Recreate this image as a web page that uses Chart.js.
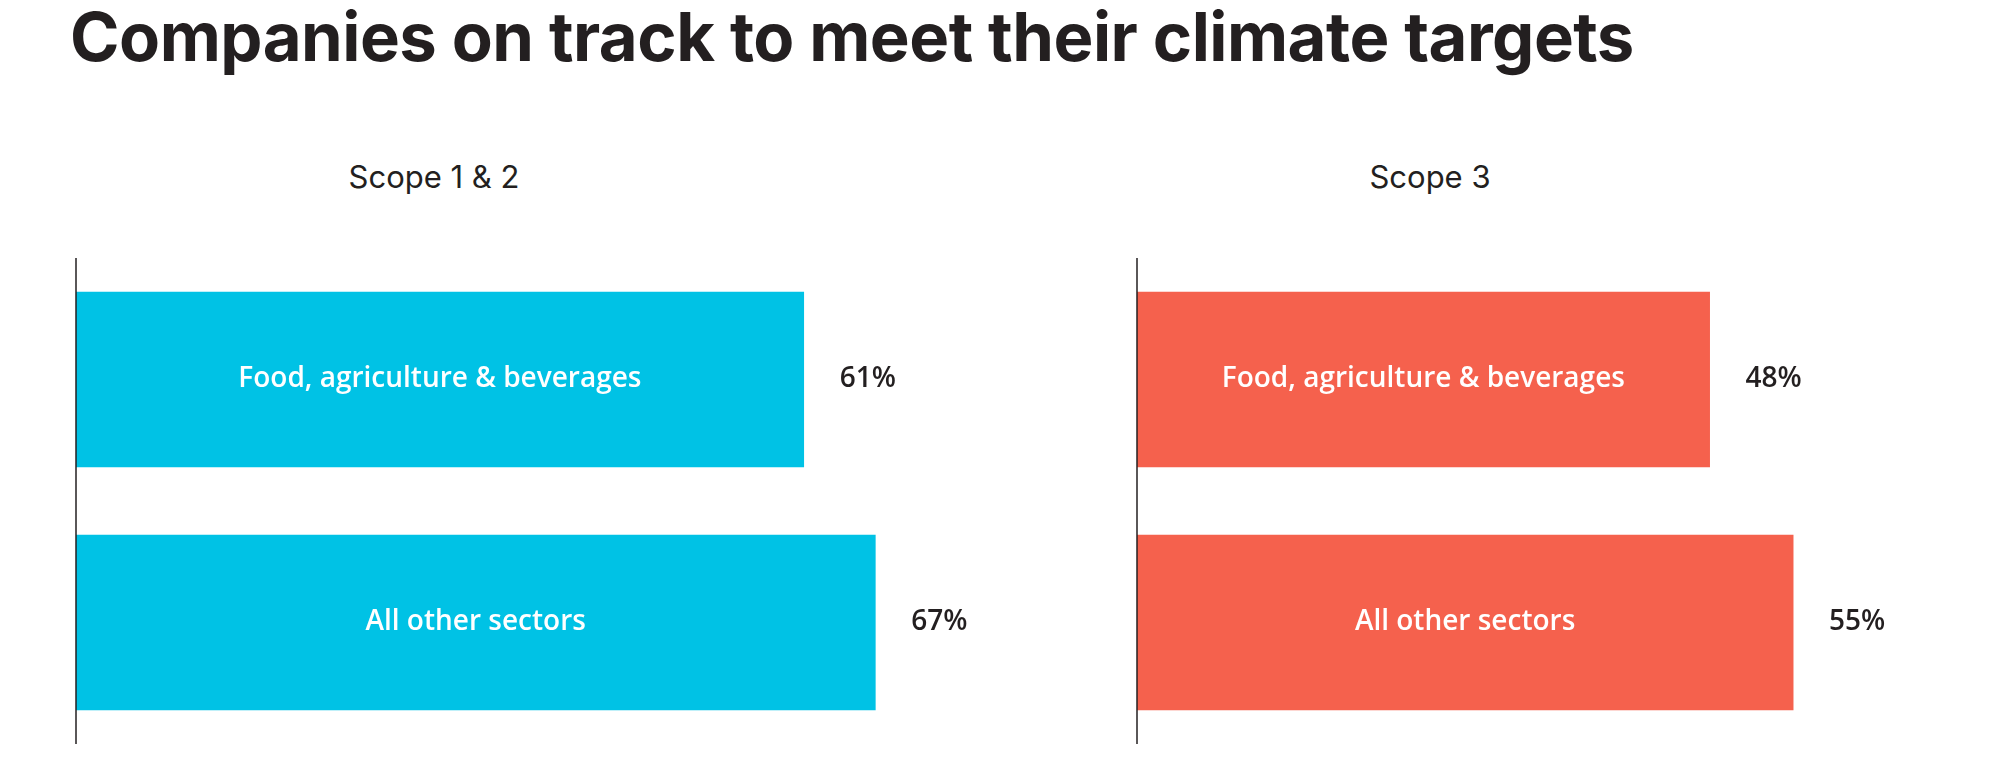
<!DOCTYPE html>
<html><head><meta charset="utf-8">
<script src="https://cdn.jsdelivr.net/npm/chart.js@4"></script>
<style>
body{margin:0;width:2000px;height:758px;background:#fff;position:relative;overflow:hidden;font-family:Inter,sans-serif;color:#231f20}
#title{position:absolute;left:70px;top:-4px;font-size:67px;font-weight:700;letter-spacing:-0.5px;white-space:nowrap}
.sub{position:absolute;top:158px;font-size:31px;font-weight:400;transform:translateX(-50%);white-space:nowrap}
canvas{position:absolute}
</style></head><body>
<div id="title">Companies on track to meet their climate targets</div>
<div class="sub" style="left:434px">Scope 1 &amp; 2</div>
<div class="sub" style="left:1430px">Scope 3</div>
<div id="c1" style="position:absolute;left:0;top:258px;width:1100px;height:486px"><canvas id="a"></canvas></div>
<div id="c2" style="position:absolute;left:1061px;top:258px;width:900px;height:486px"><canvas id="b"></canvas></div>
<script>
const categories=["Food, agriculture & beverages","All other sectors"];
const scope12=[61,67];
const scope3=[48,55];
const pxPerPct=11.93;
function make(id,data,color,padLeft,width){
  const areaW=width-padLeft;
  const plugin={id:'lbl',afterDatasetsDraw(ch){
    const c=ch.ctx,ca=ch.chartArea;
    c.save();c.strokeStyle='#231f20';c.lineWidth=1.5;
    c.beginPath();c.moveTo(ca.left,ca.top);c.lineTo(ca.left,ca.bottom);c.stroke();
    ch.getDatasetMeta(0).data.forEach((b,i)=>{
      c.textBaseline='middle';c.textAlign='center';
      c.font='600 28px "Open Sans"';c.fillStyle='#fff';
      c.fillText(categories[i],(b.base+b.x)/2,b.y);
      c.fillStyle='#231f20';c.fillText(data[i]+'%',b.x+64,b.y);
    });
    c.restore();}};
  new Chart(document.getElementById(id),{type:'bar',
    data:{labels:categories,datasets:[{data:data,backgroundColor:color,barThickness:175}]},
    options:{indexAxis:'y',responsive:true,maintainAspectRatio:false,animation:false,
      layout:{padding:{left:padLeft,right:0,top:0,bottom:0}},
      plugins:{legend:{display:false},tooltip:{enabled:false}},
      scales:{x:{display:false,min:0,max:areaW/pxPerPct},y:{display:false}}},
    plugins:[plugin]});
}
make('a',scope12,'#00C2E5',76,1100);
make('b',scope3,'#F5614D',76,900);
</script></body></html>
